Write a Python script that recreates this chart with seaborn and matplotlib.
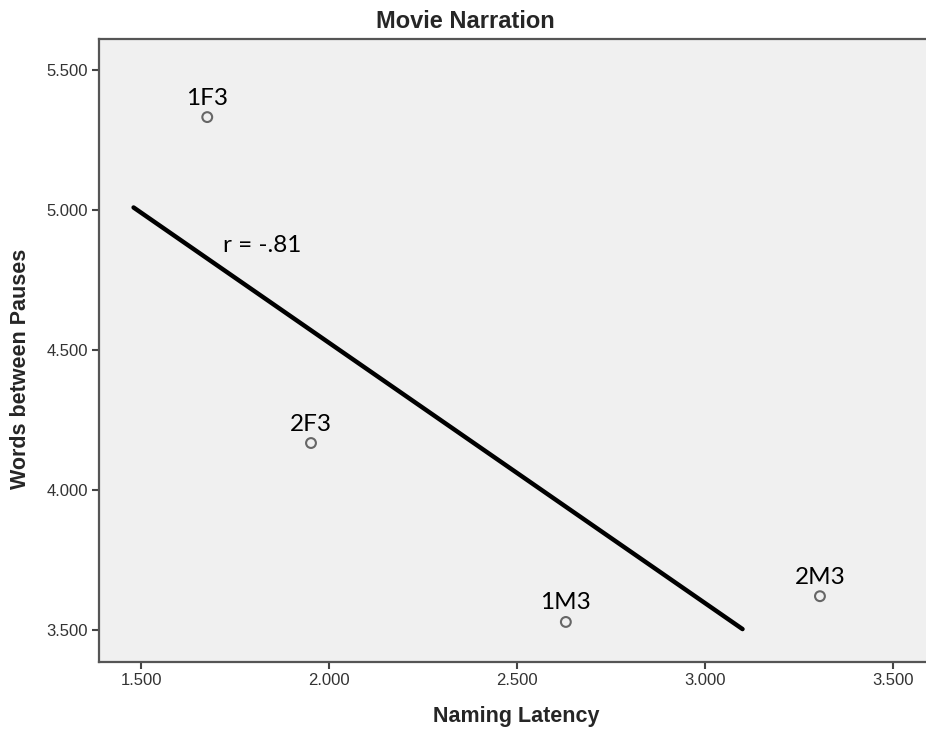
import numpy as np
import pandas as pd
import matplotlib.pyplot as plt
import seaborn as sns

# values
speakers = ["1F3", "2F3", "1M3", "2M3"]
naming_latency = [1.676, 1.952, 2.630, 3.306]
words_between_pauses = [5.332, 4.168, 3.529, 3.621]
x_ticks = [1.5, 2.0, 2.5, 3.0, 3.5]
y_ticks = [3.5, 4.0, 4.5, 5.0, 5.5]
line_span = [1.48, 3.10]
r_label = "r = -.81"

data = pd.DataFrame({"speaker": speakers,
                     "latency": naming_latency,
                     "words": words_between_pauses})

# least squares fit for the line
slope, intercept = np.polyfit(data["latency"], data["words"], 1)
fit = pd.DataFrame({"latency": line_span})
fit["words"] = intercept + slope * fit["latency"]

sns.set_style("ticks")
plt.rcParams["font.family"] = ["Liberation Sans", "DejaVu Sans"]

fig = plt.figure(figsize=(9.26, 7.34), dpi=100)
ax = fig.add_axes([0.1069, 0.0981, 0.9028, 0.8488])
ax.set_facecolor("#F0F0F0")

sns.lineplot(data=fit, x="latency", y="words", color="black", linewidth=3.2, ax=ax)
sns.scatterplot(data=data, x="latency", y="words", s=50, facecolor="none",
                edgecolor="#666666", linewidth=1.5, ax=ax, zorder=3)

for _, row in data.iterrows():
    ax.annotate(row["speaker"], (row["latency"], row["words"]), xytext=(0, 9),
                textcoords="offset points", ha="center", va="baseline",
                fontsize=17.5, family=["Lato", "DejaVu Sans"], color="black")

ax.text(1.718, 4.85, r_label, ha="left", va="baseline",
        fontsize=17.5, family=["Lato", "DejaVu Sans"], color="black")

ax.set_xlim(1.388, 3.612)
ax.set_ylim(3.386, 5.611)
ax.set_xticks(x_ticks)
ax.set_yticks(y_ticks)
ax.set_xticklabels([f"{v:.3f}" for v in x_ticks])
ax.set_yticklabels([f"{v:.3f}" for v in y_ticks])
ax.tick_params(axis="both", direction="out", length=5, width=1.5, color="#444444",
               labelsize=12, labelcolor="#333333", pad=3)

for side in ["left", "top", "bottom", "right"]:
    ax.spines[side].set_color("#555555")
    ax.spines[side].set_linewidth(1.6)

ax.set_xlabel("")
ax.set_ylabel("")
fig.text(0.558, 0.016, "Naming Latency", ha="center", va="baseline",
         fontsize=15.5, fontweight="bold")
fig.text(0.022, 0.497, "Words between Pauses", ha="center", va="center",
         rotation=90, fontsize=15.5, fontweight="bold")
fig.text(0.503, 0.962, "Movie Narration", ha="center", va="baseline",
         fontsize=17, fontweight="bold")

fig.savefig("out.png", dpi=100)
